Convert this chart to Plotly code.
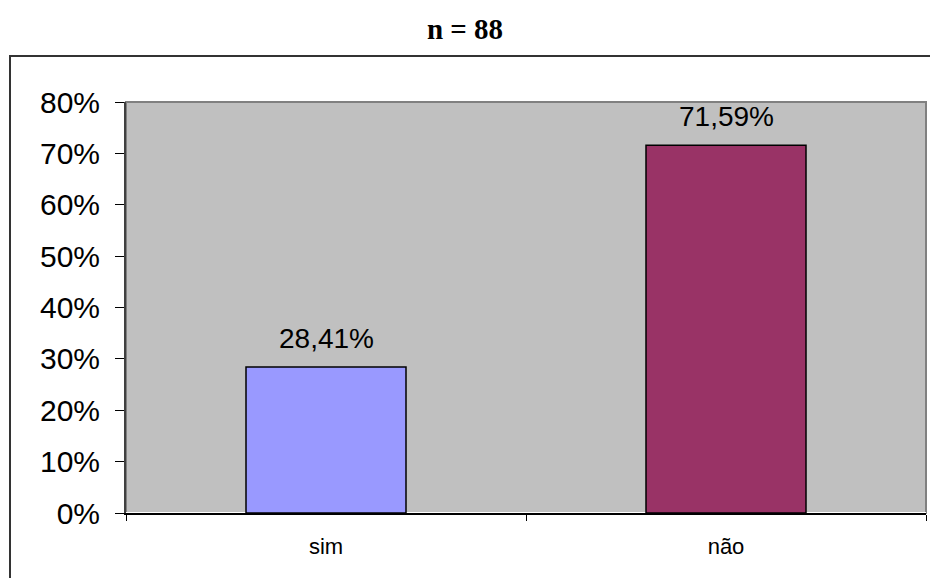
import plotly.graph_objects as go

categories = ["sim", "não"]
values = [28.41, 71.59]
value_labels = ["28,41%", "71,59%"]
bar_colors = ["#9999FF", "#993366"]
y_ticks = [0, 10, 20, 30, 40, 50, 60, 70, 80]
y_tick_labels = [f"{t}%" for t in y_ticks]

W, H = 930, 578
L, R, T, B = 126, 4, 102, 65
pw, ph = W - L - R, H - T - B

def px_x(x):
    return (x - L) / pw

def px_y(y):
    return (H - B - y) / ph

SANS = "Liberation Sans"
SERIF = "Liberation Serif"

fig = go.Figure()
fig.add_trace(go.Bar(
    x=categories, y=values,
    marker=dict(color=bar_colors, line=dict(color="black", width=1.5)),
    width=0.4, hoverinfo="skip",
))

for c, v, t in zip(categories, values, value_labels):
    fig.add_annotation(x=c, y=v, text=t, showarrow=False, yanchor="bottom",
                       yshift=11, font=dict(family=SANS, size=28, color="black"))

# plot-area frame (gray) and outer chart border
fig.add_shape(type="rect", xref="paper", yref="paper", x0=0, x1=1, y0=0, y1=1,
              line=dict(color="#808080", width=2), layer="below")
fig.add_shape(type="rect", xref="paper", yref="paper",
              x0=px_x(10), x1=px_x(935), y0=px_y(585), y1=px_y(56),
              line=dict(color="#333333", width=2))

fig.update_layout(
    width=W, height=H,
    margin=dict(l=L, r=R, t=T, b=B, pad=0),
    paper_bgcolor="white", plot_bgcolor="#C0C0C0",
    showlegend=False,
    title=dict(text="<b>n = 88</b>", x=0.5, xanchor="center", y=1 - 29 / H, yanchor="middle",
               font=dict(family=SERIF, size=29, color="black")),
    xaxis=dict(type="category", showgrid=False, showline=True, linecolor="black", linewidth=2,
               ticks="outside", tickson="boundaries", ticklen=6, tickcolor="black",
               tickfont=dict(family=SANS, size=22, color="black"),
               ticklabelstandoff=13),
    yaxis=dict(range=[0, 80], tickvals=y_ticks, ticktext=y_tick_labels, showgrid=False,
               showline=True, linecolor="#404040", linewidth=2,
               ticks="outside", ticklen=9, tickcolor="black",
               tickfont=dict(family=SANS, size=30, color="black"),
               ticklabelstandoff=9),
)

fig.write_html("out.html")
